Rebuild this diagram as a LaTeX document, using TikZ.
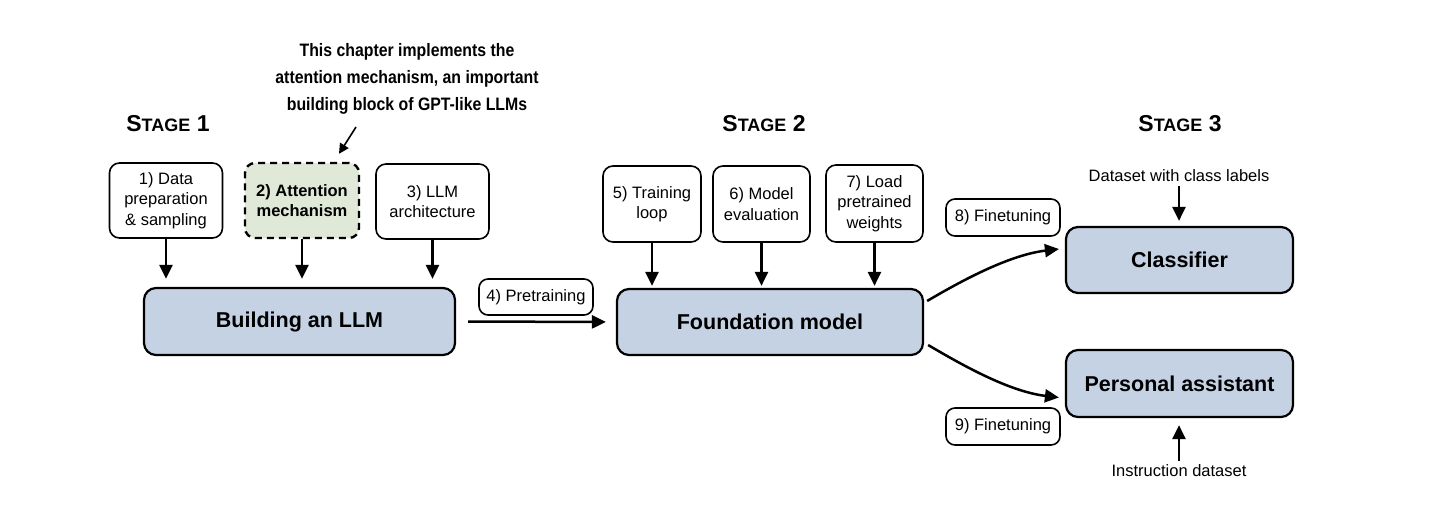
\documentclass[tikz,border=0pt]{standalone}
\usepackage{fontspec}
\setmainfont{Liberation Sans}
\newfontfamily\notefont[FakeStretch=0.88]{Liberation Sans}
\usetikzlibrary{arrows.meta,calc}
\definecolor{boxblue}{RGB}{196,210,228}
\definecolor{boxgreen}{RGB}{224,232,215}
\newcommand{\stagetitle}[1]{\bfseries{\fontsize{23}{23}\selectfont S}{\fontsize{18}{18}\selectfont TAGE}{\fontsize{23}{23}\selectfont\ #1}}
\begin{document}
\begin{tikzpicture}[x=1pt, y=-1pt,
    small/.style={draw, line width=1.6pt, rounded corners=10pt, align=center, inner sep=0pt,
        font=\fontsize{16.5}{20.5}\selectfont},
    big/.style={draw, line width=2.2pt, rounded corners=12pt, fill=boxblue, inner sep=0pt,
        font=\fontsize{21.5}{26}\selectfont\bfseries},
    plain/.style={align=center, inner sep=2pt, font=\fontsize{16.5}{20.5}\selectfont},
    arr/.style={-{Triangle[length=14pt,width=13pt]}, line width=2.5pt},
    thinarr/.style={-{Triangle[length=10pt,width=10pt]}, line width=1.6pt}]
    \useasboundingbox (0,0) rectangle (1442,524);
    % stage titles
    \node (s1) at (168,124) {\stagetitle{1}};
    \node (s2) at (764,124) {\stagetitle{2}};
    \node (s3) at (1180,124) {\stagetitle{3}};
    \node[align=center, font=\notefont\bfseries\fontsize{18}{27}\selectfont] (note) at (407,79)
        {This chapter implements the\\attention mechanism, an important\\building block of GPT-like LLMs};
    % stage 1
    \node[small, minimum width=113pt, minimum height=75pt] (data) at (166,200.5) {1) Data\\preparation\\\& sampling};
    \node[small, fill=boxgreen, line width=2.4pt, dash pattern=on 7pt off 5pt, minimum width=114pt, minimum height=75pt,
        font=\fontsize{16.5}{20.5}\selectfont\bfseries] (att) at (302,200.5) {2) Attention\\mechanism};
    \node[small, minimum width=113pt, minimum height=75pt] (arch) at (432.5,201.5) {3) LLM\\architecture};
    \node[big, minimum width=311pt, minimum height=67pt] (llm) at (299.5,321.5) {Building an LLM};
    \foreach \n in {data,att,arch} \draw[arr, shorten >=8pt] (\n.south) -- (\n.south |- llm.north);
    \coordinate (notetip) at (356,127);
    \draw[thinarr] (notetip) -- ($(att.north)+(37,-8)$);
    % stage 2
    \node[small, rounded corners=9pt, minimum width=114pt, minimum height=36pt] (pre) at (536,297) {4) Pretraining};
    \node[big, minimum width=306pt, minimum height=66pt] (found) at (770,322) {Foundation model};
    \draw[arr, shorten <=12pt, shorten >=10pt] (llm.east) -- (found.west);
    \node[small, minimum width=98pt, minimum height=76pt] (loop) at (652,204) {5) Training\\loop};
    \node[small, minimum width=97pt, minimum height=76pt] (eval) at (761.5,204) {6) Model\\evaluation};
    \node[small, minimum width=97pt, minimum height=77pt] (load) at (874.5,203.5) {7) Load\\pretrained\\weights};
    \foreach \n in {loop,eval,load} \draw[arr, shorten >=2pt] (\n.south) -- (\n.south |- found.north);
    % stage 3
    \node[small, rounded corners=9pt, minimum width=114pt, minimum height=37pt] (ft1) at (1003,217.5) {8) Finetuning};
    \node[small, rounded corners=9pt, minimum width=114pt, minimum height=37pt] (ft2) at (1003,426.5) {9) Finetuning};
    \node[big, minimum width=227pt, minimum height=66pt] (cls) at (1179.5,260) {Classifier};
    \node[big, minimum width=227pt, minimum height=67pt] (pa) at (1179.5,383.5) {Personal assistant};
    \node[plain] (clsdata) at (1179,176) {Dataset with class labels};
    \node[plain] (instr) at (1179,471) {Instruction dataset};
    \draw[arr, shorten <=2pt, shorten >=5pt] (clsdata.south) -- (clsdata.south |- cls.north);
    \draw[arr, shorten <=2pt, shorten >=7pt] (instr.north) -- (instr.north |- pa.south);
    \draw[arr] ($(found.east)+(3,-21)$) .. controls +(34,-20) and ($(cls.west)+(-56,-5)$) .. ($(cls.west)+(-6,-11)$);
    \draw[arr] ($(found.east)+(4,23)$) .. controls +(34,20) and ($(pa.west)+(-56,8)$) .. ($(pa.west)+(-6,14)$);
\end{tikzpicture}
\end{document}
